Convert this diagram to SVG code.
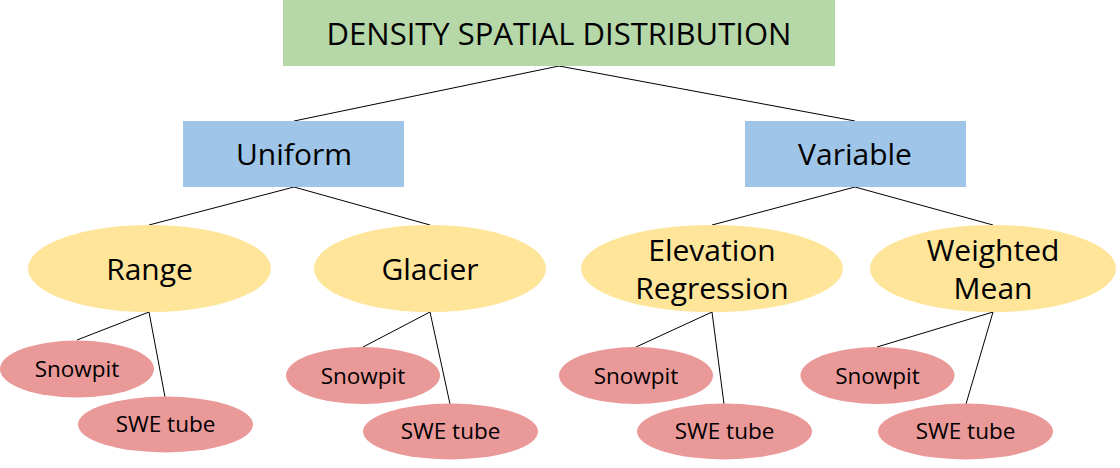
<svg xmlns="http://www.w3.org/2000/svg" width="1120" height="468" viewBox="0 0 1120 468">
<style>
text{font-family:"Open Sans","Noto Sans","DejaVu Sans",sans-serif;fill:#000;text-anchor:middle}
.top{font-size:31px}
.big{font-size:30px}
.small{font-size:22.5px}
.green{fill:#b6d7a8}
.blue{fill:#9fc5e8}
.yellow{fill:#ffe599}
.pink{fill:#ea9999}
.conn line{stroke:#000;stroke-width:1}
</style>
<rect width="1120" height="468" fill="#fff"/>
<g id="connectors" class="conn">
<line x1="559" y1="66" x2="294" y2="121"/>
<line x1="559" y1="66" x2="855" y2="121"/>
<line x1="294" y1="187" x2="149" y2="225"/>
<line x1="294" y1="187" x2="430" y2="225"/>
<line x1="855" y1="187" x2="712" y2="225"/>
<line x1="855" y1="187" x2="993" y2="225"/>
<line x1="149" y1="312" x2="77" y2="340"/>
<line x1="149" y1="312" x2="165" y2="397"/>
<line x1="430" y1="312" x2="363" y2="347"/>
<line x1="430" y1="312" x2="450" y2="404"/>
<line x1="712" y1="312" x2="636" y2="347"/>
<line x1="712" y1="312" x2="724" y2="404"/>
<line x1="993" y1="312" x2="877" y2="347"/>
<line x1="993" y1="312" x2="966" y2="404"/>
</g>
<g id="root"><rect class="green" x="283" y="0" width="552" height="66"/><text class="top" x="559" y="45">DENSITY SPATIAL DISTRIBUTION</text></g>
<g id="uniform"><rect class="blue" x="183" y="121" width="221" height="66"/><text class="big" x="294" y="165">Uniform</text></g>
<g id="variable"><rect class="blue" x="745" y="121" width="221" height="66"/><text class="big" x="855" y="165">Variable</text></g>
<g id="range"><ellipse class="yellow" cx="149.5" cy="268.5" rx="121.5" ry="43.5"/><text class="big" x="149.5" y="280">Range</text></g>
<g id="glacier"><ellipse class="yellow" cx="430" cy="268.5" rx="116" ry="43.5"/><text class="big" x="430" y="280">Glacier</text></g>
<g id="elevation"><ellipse class="yellow" cx="712" cy="268.5" rx="131" ry="43.5"/><text class="big" x="712" y="261">Elevation</text><text class="big" x="712" y="299">Regression</text></g>
<g id="weighted"><ellipse class="yellow" cx="993" cy="268.5" rx="123" ry="43.5"/><text class="big" x="993" y="261">Weighted</text><text class="big" x="993" y="299">Mean</text></g>
<g id="range-snowpit"><ellipse class="pink" cx="77" cy="369" rx="77" ry="28.5"/><text class="small" x="77" y="377">Snowpit</text></g>
<g id="range-swe"><ellipse class="pink" cx="165.5" cy="424.5" rx="87.5" ry="28"/><text class="small" x="165.5" y="432">SWE tube</text></g>
<g id="glacier-snowpit"><ellipse class="pink" cx="363" cy="375.5" rx="77" ry="28.5"/><text class="small" x="363" y="384">Snowpit</text></g>
<g id="glacier-swe"><ellipse class="pink" cx="450.5" cy="431.5" rx="87.5" ry="28"/><text class="small" x="450.5" y="439">SWE tube</text></g>
<g id="elevation-snowpit"><ellipse class="pink" cx="636" cy="375.5" rx="77" ry="28.5"/><text class="small" x="636" y="384">Snowpit</text></g>
<g id="elevation-swe"><ellipse class="pink" cx="724.5" cy="431.5" rx="87.5" ry="28"/><text class="small" x="724.5" y="439">SWE tube</text></g>
<g id="weighted-snowpit"><ellipse class="pink" cx="877.5" cy="375.5" rx="77" ry="28.5"/><text class="small" x="877.5" y="384">Snowpit</text></g>
<g id="weighted-swe"><ellipse class="pink" cx="965.5" cy="431.5" rx="87.5" ry="28"/><text class="small" x="965.5" y="439">SWE tube</text></g>
</svg>
